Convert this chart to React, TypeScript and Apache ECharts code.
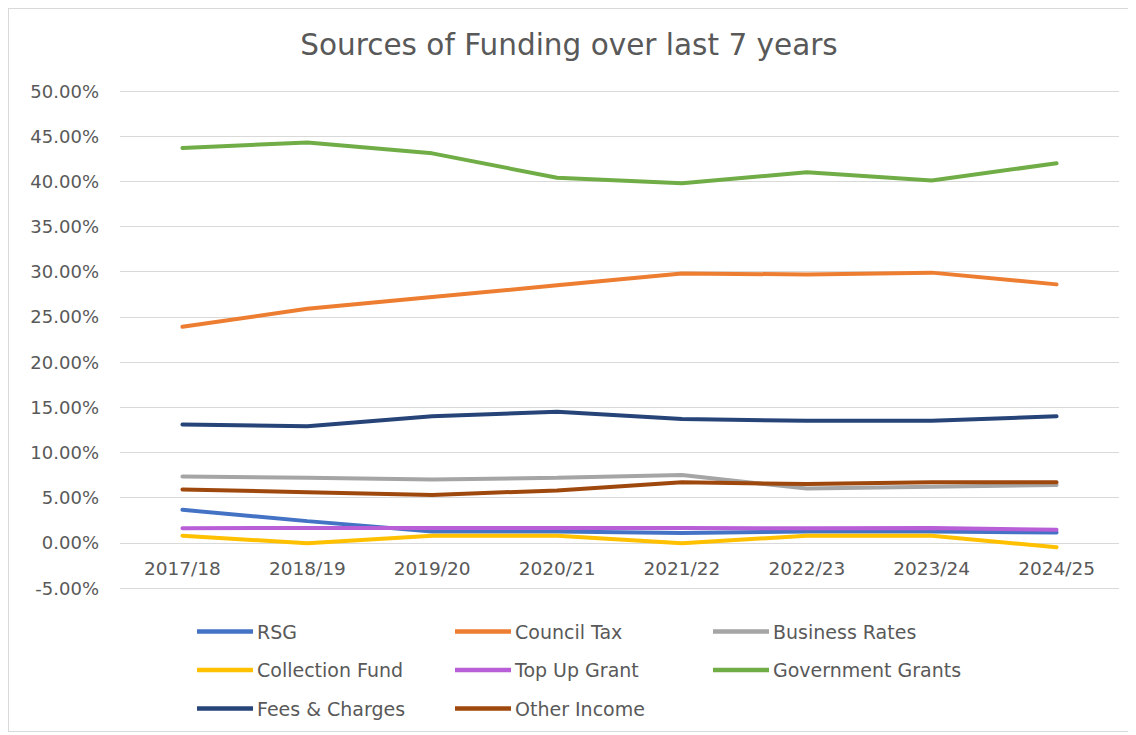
import React, { useEffect, useRef } from "react";
import * as echarts from "echarts";

const categories = ["2017/18", "2018/19", "2019/20", "2020/21", "2021/22", "2022/23", "2023/24", "2024/25"];
const rsg = [3.65, 2.4, 1.25, 1.25, 1.1, 1.25, 1.25, 1.15];
const councilTax = [23.9, 25.9, 27.2, 28.5, 29.8, 29.7, 29.9, 28.6];
const businessRates = [7.35, 7.2, 7.0, 7.2, 7.5, 6.0, 6.2, 6.4];
const collectionFund = [0.78, -0.05, 0.78, 0.78, -0.05, 0.78, 0.78, -0.5];
const topUpGrant = [1.6, 1.65, 1.65, 1.65, 1.65, 1.6, 1.65, 1.45];
const governmentGrants = [43.7, 44.3, 43.1, 40.4, 39.8, 41.0, 40.1, 42.0];
const feesCharges = [13.1, 12.9, 14.0, 14.5, 13.7, 13.5, 13.5, 14.0];
const otherIncome = [5.9, 5.6, 5.3, 5.8, 6.7, 6.5, 6.7, 6.7];

const seriesDefs = [
  { name: "RSG", data: rsg, color: "#4472C4" },
  { name: "Council Tax", data: councilTax, color: "#ED7D31" },
  { name: "Business Rates", data: businessRates, color: "#A5A5A5" },
  { name: "Collection Fund", data: collectionFund, color: "#FFC000" },
  { name: "Top Up Grant", data: topUpGrant, color: "#B85FD8" },
  { name: "Government Grants", data: governmentGrants, color: "#70AD47" },
  { name: "Fees & Charges", data: feesCharges, color: "#264478" },
  { name: "Other Income", data: otherIncome, color: "#9E480E" },
];

const FONT = "'DejaVu Sans', 'Noto Sans', sans-serif";
const TXT = "#595959";

export default function App() {
  const ref = useRef<HTMLDivElement>(null);
  useEffect(() => {
    if (!ref.current) return;
    const chart = echarts.init(ref.current, null, { renderer: "svg" });
    const legendBase = {
      orient: "vertical" as const,
      top: 613,
      height: 110,
      padding: 0,
      itemWidth: 56,
      itemHeight: 14,
      itemGap: 19.5,
      icon: "path://M0,0 L56,0 L56,4.5 L0,4.5 Z",
      textStyle: { color: TXT, fontSize: 19, fontFamily: FONT, padding: [0, 0, 0, -1] },
    };
    chart.setOption({
      animation: false,
      textStyle: { fontFamily: FONT },
      title: {
        text: "Sources of Funding over last 7 years",
        left: "center",
        top: 16,
        textStyle: { color: TXT, fontSize: 29.5, fontWeight: "normal", fontFamily: FONT },
      },
      legend: [
        { ...legendBase, left: 188, data: ["RSG", "Collection Fund", "Fees & Charges"] },
        { ...legendBase, left: 446, data: ["Council Tax", "Top Up Grant", "Other Income"] },
        { ...legendBase, left: 704, data: ["Business Rates", "Government Grants"] },
      ],
      grid: { left: 111, right: 10, top: 82, bottom: 143 },
      xAxis: {
        type: "category",
        data: categories,
        boundaryGap: true,
        offset: -45,
        axisLine: { show: false, onZero: false },
        axisTick: { show: false },
        axisLabel: { color: TXT, fontSize: 18.5, fontFamily: FONT, margin: 16 },
      },
      yAxis: {
        type: "value",
        min: -5,
        max: 50,
        interval: 5,
        axisLine: { show: false },
        axisTick: { show: false },
        splitLine: { lineStyle: { color: "#d9d9d9", width: 1 } },
        axisLabel: {
          color: TXT,
          fontSize: 18,
          fontFamily: FONT,
          margin: 21,
          formatter: (v: number) => v.toFixed(2) + "%",
        },
      },
      series: seriesDefs.map((s) => ({
        name: s.name,
        type: "line",
        data: s.data,
        symbol: "none",
        color: s.color,
        lineStyle: { width: 4, color: s.color, cap: "round" },
      })),
    });
    return () => chart.dispose();
  }, []);
  return (
    <div
      ref={ref}
      style={{ width: 1122, height: 724, border: "1px solid #d9d9d9", boxSizing: "border-box", background: "#fff" }}
    />
  );
}
